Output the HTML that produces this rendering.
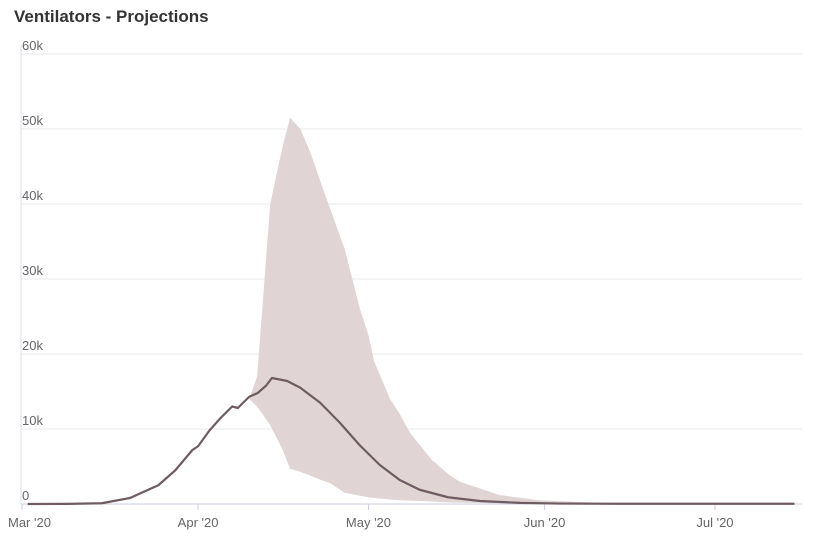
<!DOCTYPE html>
<html><head><meta charset="utf-8"><style>
body{margin:0;background:#fff;font-family:"Liberation Sans",sans-serif}
svg text{font-family:"Liberation Sans",sans-serif}
</style></head><body>
<svg id="c" width="813" height="542">
<text x="14" y="22" font-size="17" font-weight="bold" fill="#333">Ventilators - Projections</text>
</svg>
<script>
const yTicks=[0,10000,20000,30000,40000,50000,60000];
const yTickLabels=["0","10k","20k","30k","40k","50k","60k"];
const xTickDays=[0,31,61,92,122];
const xTickLabels=["Mar '20","Apr '20","May '20","Jun '20","Jul '20"];
const lineDays=[1,8,14,19,24,27,30,31,33,35,37,38,40,41.5,43,44,46.7,49,52.5,56,59.5,63,66.5,70,75,80.6,87.7,94.6,105,136];
const lineVals=[0,20,100,800,2500,4500,7200,7700,9800,11500,13000,12800,14300,14800,15800,16800,16400,15500,13500,10800,7800,5200,3200,1900,900,400,150,60,30,30];
const bandDays=[40,41.4,43.7,45.4,46,47.2,49,50.7,53,54.2,56.8,59.5,61,62,64.8,66.5,68.3,72,75,77,84,91,101.8,136];
const bandUpper=[14000,17000,40000,46000,48000,51500,50000,47000,42000,39500,34000,26000,22500,19000,14000,12000,9500,6000,4000,3000,1200,500,150,0];
const bandLower=[14000,13000,10500,8000,7000,4700,4300,3800,3100,2800,1500,1100,900,800,600,500,450,350,200,180,100,50,0,0];
const svg=document.getElementById('c');
const NS='http://www.w3.org/2000/svg';
const X=d=>22+d*5.68, Y=v=>504-v*0.0075;
function mk(t,a){const e=document.createElementNS(NS,t);for(const k in a)e.setAttribute(k,a[k]);svg.appendChild(e);return e;}
yTicks.forEach((v,i)=>{
 const g=mk('line',{x1:21,x2:802,y1:Y(v),y2:Y(v),stroke:i==0?'#ccd':'#e9e9e9','stroke-width':1});
 
 
 const t=mk('text',{x:22,y:Y(v)-4,'font-size':13,fill:'#666'});
 t.textContent=yTickLabels[i];
 
 
});
const ax=mk('line',{x1:21,x2:21,y1:45,y2:504,stroke:'#dde','stroke-width':1});


xTickDays.forEach((d,i)=>{
 const l=mk('line',{x1:X(d),x2:X(d),y1:504,y2:510,stroke:'#ccd'});
 
 
 const t=mk('text',{x:i==0?8:X(d),y:527,'font-size':13,fill:'#666','text-anchor':i==0?'start':'middle'});
 t.textContent=xTickLabels[i];
 
 
});
let p=bandDays.map((d,i)=>(i?'L':'M')+X(d)+','+Y(bandUpper[i])).join('');
for(let i=bandDays.length-1;i>=0;i--)p+='L'+X(bandDays[i])+','+Y(bandLower[i]);
const band=mk('path',{d:p+'Z',fill:'#e0d4d4'});


const ln=mk('path',{d:lineDays.map((d,i)=>(i?'L':'M')+X(d)+','+Y(lineVals[i])).join(''),fill:'none',stroke:'#6e5c62','stroke-width':2.2,'stroke-linejoin':'round'});


</script>
</body></html>
